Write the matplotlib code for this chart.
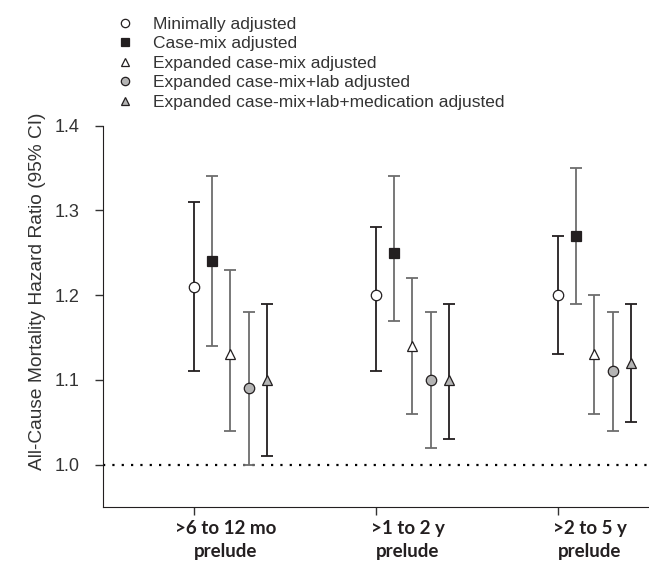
import numpy as np
import matplotlib.pyplot as plt

# categorias e valores
grupos = ['>6 to 12 mo\nprelude', '>1 to 2 y\nprelude', '>2 to 5 y\nprelude']
series = ['Minimally adjusted', 'Case-mix adjusted', 'Expanded case-mix adjusted',
          'Expanded case-mix+lab adjusted', 'Expanded case-mix+lab+medication adjusted']

hr = [[1.21, 1.20, 1.20],
      [1.24, 1.25, 1.27],
      [1.13, 1.14, 1.13],
      [1.09, 1.10, 1.11],
      [1.10, 1.10, 1.12]]
ci_low = [[1.11, 1.11, 1.13],
          [1.14, 1.17, 1.19],
          [1.04, 1.06, 1.06],
          [1.00, 1.02, 1.04],
          [1.01, 1.03, 1.05]]
ci_high = [[1.31, 1.28, 1.27],
           [1.34, 1.34, 1.35],
           [1.23, 1.22, 1.20],
           [1.18, 1.18, 1.18],
           [1.19, 1.19, 1.19]]

# estilo de cada serie
marcadores = ['o', 's', '^', 'o', '^']
preenchimento = ['white', '#231f20', 'white', '#b4b4b4', '#b4b4b4']
cor_barra = ['#231f20', '#6d6d6d', '#6d6d6d', '#6d6d6d', '#231f20']
tamanho = [7.5, 7, 7.5, 7.5, 7.5]

plt.rcParams['font.family'] = ['Liberation Sans', 'DejaVu Sans']

fig = plt.figure(figsize=(6.49, 5.64), dpi=100)
ax = fig.add_axes([0.1587, 0.1011, 0.8413, 0.6762])

x = np.arange(1, len(grupos) + 1)
deslocamento = 0.1

for i in range(len(series)):
    xs = x + i * deslocamento
    y = np.array(hr[i])
    erro = [y - np.array(ci_low[i]), np.array(ci_high[i]) - y]
    ax.errorbar(xs, y, yerr=erro, fmt='none', ecolor=cor_barra[i],
                elinewidth=1.3, capsize=4.2, capthick=1.3, zorder=2)
    ax.plot(xs, y, linestyle='none', marker=marcadores[i], markersize=tamanho[i],
            markerfacecolor=preenchimento[i], markeredgecolor='#231f20',
            markeredgewidth=0.9, label=series[i], zorder=3)

# linha de referencia
ax.axhline(1.0, color='black', linestyle=(0, (1, 3.2)), linewidth=1.6, zorder=1)

ax.set_xlim(0.5, 3.5)
ax.set_ylim(0.95, 1.4)
ax.set_yticks([1.0, 1.1, 1.2, 1.3, 1.4])
ax.set_yticklabels(['1.0', '1.1', '1.2', '1.3', '1.4'], fontsize=13, color='#333333')
ax.set_xticks(x)
ax.set_xticklabels([])
for xi, g in zip(x, grupos):
    ax.text(xi + 0.174, -0.035, g, transform=ax.get_xaxis_transform(), ha='center', va='top',
            fontsize=13.5, fontweight='bold', family=['Lato', 'DejaVu Sans'],
            color='#231f20', linespacing=1.4)

ax.tick_params(axis='both', direction='out', length=6, width=1, color='#333333')
ax.tick_params(axis='y', pad=11)
ax.spines['top'].set_visible(False)
ax.spines['right'].set_visible(False)
ax.spines['left'].set_color('#231f20')
ax.spines['bottom'].set_color('#231f20')

ax.set_ylabel('All-Cause Mortality Hazard Ratio (95% CI)', fontsize=13.8, color='#333333')
ax.yaxis.set_label_coords(-0.105, 0.566)

fig.legend(loc='upper left', bbox_to_anchor=(0.154, 1.0), frameon=False, fontsize=12.5,
           handlelength=1.0, handletextpad=1.1, labelspacing=0.25, markerscale=0.8,
           borderaxespad=0.55)
for t in fig.legends[0].get_texts():
    t.set_color('#333333')

plt.savefig('out.png', dpi=100)
